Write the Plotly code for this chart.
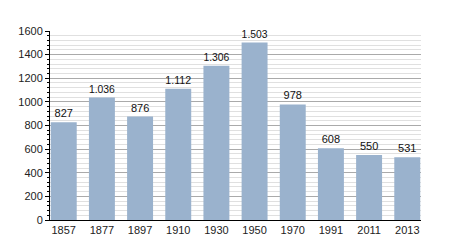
import plotly.graph_objects as go

years = ["1857", "1877", "1897", "1910", "1930", "1950", "1970", "1991", "2011", "2013"]
population = [827, 1036, 876, 1112, 1306, 1503, 978, 608, 550, 531]
labels = ["827", "1.036", "876", "1.112", "1.306", "1.503", "978", "608", "550", "531"]
y_ticks = [0, 200, 400, 600, 800, 1000, 1200, 1400, 1600]

fig = go.Figure(go.Bar(
    x=years, y=population, text=labels, textposition="outside",
    textfont=dict(size=11, color="#111"), cliponaxis=False,
    marker=dict(color="#9ab2cd", line=dict(width=0)),
))
fig.update_layout(
    width=450, height=250, margin=dict(l=50, r=29, t=31, b=30),
    paper_bgcolor="white", plot_bgcolor="white", bargap=0.32,
    font=dict(family="Liberation Sans, Arial, sans-serif", size=11, color="#222"),
    showlegend=False,
)
fig.update_xaxes(type="category", range=[-0.36, 9.36], showline=True, linecolor="black",
                 linewidth=1, ticks="", showgrid=False, tickfont=dict(size=11))
fig.update_yaxes(range=[0, 1600], tickvals=y_ticks, showline=True, linecolor="black",
                 linewidth=1, ticks="outside", ticklen=4, tickcolor="black",
                 showgrid=True, gridcolor="#aaaaaa", gridwidth=1, zeroline=False,
                 tickfont=dict(size=11),
                 minor=dict(dtick=40, ticks="outside", ticklen=2, tickcolor="black",
                            showgrid=True, gridcolor="#e0e0e0", gridwidth=1))
fig.write_html("out.html")
